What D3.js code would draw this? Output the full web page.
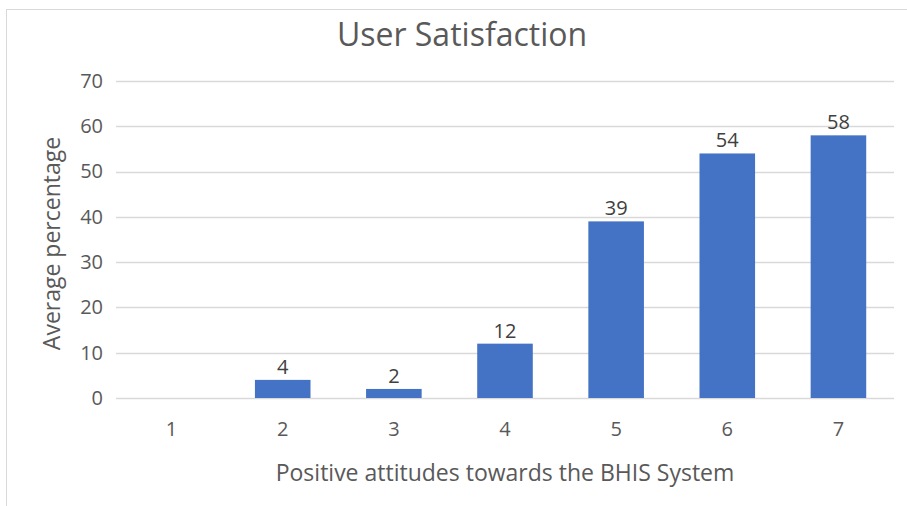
<html>
<script src="https://d3js.org/d3.v7.js"></script>
<body style="margin:0; background:#fff;">
<div id="chart"></div>
<script>
    // values
    let categories = ["1", "2", "3", "4", "5", "6", "7"];
    let values = [0, 4, 2, 12, 39, 54, 58];
    let yTicks = [0, 10, 20, 30, 40, 50, 60, 70];

    let width = 907, height = 506;
    let margin = {left: 116, right: 13, top: 81, bottom: 108};
    let font = "'Segoe UI', 'Open Sans', sans-serif";

    let svg = d3.select('#chart').append('svg')
        .attr('width', width).attr('height', height)
        .style('font-family', font);

    // chart frame
    svg.append('rect')
        .attr('x', 6.5).attr('y', 9.5)
        .attr('width', width + 10).attr('height', height + 10)
        .attr('fill', '#fff')
        .attr('stroke', '#d9d9d9');

    let x = d3.scaleBand().domain(categories)
        .range([margin.left, width - margin.right])
        .paddingInner(0.5)
        .paddingOuter(0.25);
    let y = d3.scaleLinear().domain([0, 70])
        .range([height - margin.bottom, margin.top]);

    // gridlines
    svg.append('g')
        .selectAll('line')
        .data(yTicks)
        .join('line')
        .attr('x1', margin.left).attr('x2', width - margin.right)
        .attr('y1', d => Math.round(y(d)) + 0.5)
        .attr('y2', d => Math.round(y(d)) + 0.5)
        .attr('stroke', '#d9d9d9')
        .attr('stroke-width', 1.3);

    // y axis labels
    let yAxis = d3.axisLeft(y).tickValues(yTicks).tickSize(0).tickPadding(13);
    let gy = svg.append('g')
        .attr('transform', `translate(${margin.left},0)`)
        .call(yAxis);
    gy.select('.domain').remove();
    gy.selectAll('text')
        .attr('fill', '#595959')
        .style('font-size', '20px')
        .style('font-family', font);

    // x axis labels
    let xAxis = d3.axisBottom(x).tickSize(0).tickPadding(24);
    let gx = svg.append('g')
        .attr('transform', `translate(0,${height - margin.bottom})`)
        .call(xAxis);
    gx.select('.domain').remove();
    gx.selectAll('text')
        .attr('fill', '#595959')
        .style('font-size', '20px')
        .style('font-family', font);

    // bars
    svg.selectAll('.bar')
        .data(values)
        .join('rect')
        .attr('class', 'bar')
        .attr('x', (d, i) => x(categories[i]))
        .attr('width', x.bandwidth())
        .attr('y', d => y(d))
        .attr('height', d => y(0) - y(d))
        .attr('fill', '#4472c4');

    // data labels (nothing shown for the empty bar)
    svg.selectAll('.val')
        .data(values)
        .join('text')
        .attr('class', 'val')
        .attr('x', (d, i) => x(categories[i]) + x.bandwidth() / 2)
        .attr('y', d => y(d) - 6)
        .attr('text-anchor', 'middle')
        .attr('fill', '#404040')
        .style('font-size', '20px')
        .text(d => d > 0 ? d : '');

    // titles
    svg.append('text')
        .attr('x', 462).attr('y', 46)
        .attr('text-anchor', 'middle')
        .attr('fill', '#595959')
        .style('font-size', '32px')
        .text('User Satisfaction');

    svg.append('text')
        .attr('x', (margin.left + width - margin.right) / 2).attr('y', 481)
        .attr('text-anchor', 'middle')
        .attr('fill', '#595959')
        .style('font-size', '23px')
        .text('Positive attitudes towards the BHIS System');

    svg.append('text')
        .attr('transform', `translate(60,${(margin.top + height - margin.bottom) / 2 + 4}) rotate(-90)`)
        .attr('text-anchor', 'middle')
        .attr('fill', '#595959')
        .style('font-size', '23px')
        .text('Average percentage');
</script>
</body>
</html>
